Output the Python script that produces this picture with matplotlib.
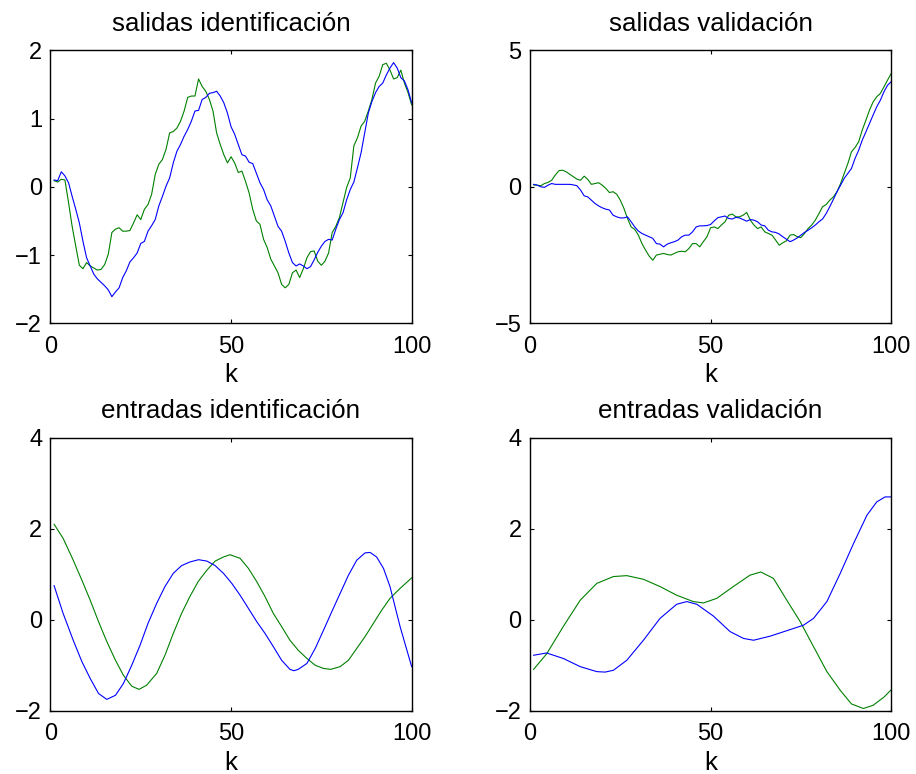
import matplotlib
matplotlib.use("Agg")
import matplotlib.pyplot as plt

plt.rcParams["font.family"] = ["Liberation Sans", "DejaVu Sans"]
plt.rcParams["font.size"] = 17

k = list(range(1, 101))

# salidas identificación
out_id_blue = [
    0.10, 0.09, 0.22, 0.16, 0.06, -0.14, -0.33, -0.53, -0.80, -1.04,
    -1.16, -1.28, -1.35, -1.40, -1.45, -1.51, -1.61, -1.54, -1.48, -1.33,
    -1.23, -1.10, -1.04, -0.97, -0.83, -0.80, -0.65, -0.57, -0.48, -0.28,
    -0.14, 0.01, 0.13, 0.35, 0.52, 0.62, 0.74, 0.84, 0.96, 1.11,
    1.12, 1.28, 1.31, 1.37, 1.38, 1.40, 1.33, 1.23, 1.08, 0.88,
    0.77, 0.62, 0.47, 0.45, 0.36, 0.34, 0.20, 0.06, -0.04, -0.19,
    -0.28, -0.43, -0.58, -0.65, -0.80, -0.97, -1.11, -1.16, -1.13, -1.16,
    -1.20, -1.17, -1.07, -0.96, -0.87, -0.80, -0.77, -0.78, -0.62, -0.48,
    -0.38, -0.19, -0.04, 0.07, 0.28, 0.50, 0.79, 1.08, 1.25, 1.38,
    1.47, 1.52, 1.64, 1.74, 1.82, 1.74, 1.60, 1.55, 1.42, 1.23,
]
out_id_green = [
    0.09, 0.07, 0.11, 0.10, -0.23, -0.58, -0.87, -1.15, -1.20, -1.11,
    -1.16, -1.19, -1.22, -1.21, -1.14, -0.99, -0.67, -0.62, -0.60, -0.65,
    -0.65, -0.64, -0.53, -0.41, -0.48, -0.33, -0.26, -0.11, 0.18, 0.33,
    0.40, 0.55, 0.79, 0.81, 0.86, 0.96, 1.11, 1.31, 1.33, 1.33,
    1.58, 1.47, 1.40, 1.28, 1.11, 0.79, 0.62, 0.47, 0.35, 0.44,
    0.35, 0.21, 0.23, 0.08, -0.09, -0.33, -0.50, -0.55, -0.77, -0.89,
    -1.06, -1.16, -1.26, -1.43, -1.48, -1.43, -1.26, -1.22, -1.33, -1.20,
    -1.04, -0.95, -0.94, -1.09, -1.15, -1.09, -0.97, -0.67, -0.58, -0.45,
    -0.23, -0.01, 0.13, 0.60, 0.72, 0.89, 0.96, 1.11, 1.28, 1.52,
    1.62, 1.79, 1.81, 1.71, 1.58, 1.60, 1.71, 1.52, 1.38, 1.20,
]

# salidas validación
out_val_blue = [
    0.09, 0.06, 0.00, -0.02, 0.06, 0.12, 0.09, 0.09, 0.09, 0.09,
    0.09, 0.07, 0.04, -0.12, -0.33, -0.37, -0.49, -0.61, -0.70, -0.77,
    -0.82, -0.85, -1.04, -1.10, -1.14, -1.14, -1.10, -1.28, -1.47, -1.62,
    -1.71, -1.77, -1.83, -1.89, -2.08, -2.10, -2.20, -2.10, -2.05, -2.01,
    -1.95, -1.83, -1.77, -1.77, -1.65, -1.47, -1.43, -1.43, -1.42, -1.38,
    -1.25, -1.13, -1.10, -1.07, -1.16, -1.18, -1.12, -1.14, -1.20, -1.26,
    -1.20, -1.22, -1.28, -1.40, -1.43, -1.59, -1.65, -1.67, -1.73, -1.83,
    -1.92, -2.01, -1.95, -1.87, -1.77, -1.67, -1.59, -1.50, -1.40, -1.28,
    -1.18, -0.98, -0.73, -0.46, -0.18, 0.06, 0.31, 0.49, 0.67, 1.04,
    1.34, 1.71, 2.01, 2.32, 2.63, 2.93, 3.17, 3.48, 3.72, 3.85,
]
out_val_green = [
    0.07, 0.06, 0.04, 0.12, 0.16, 0.24, 0.43, 0.59, 0.61, 0.55,
    0.46, 0.37, 0.28, 0.24, 0.39, 0.27, 0.09, 0.12, 0.15, 0.06,
    -0.06, -0.21, -0.18, -0.27, -0.49, -0.79, -1.16, -1.47, -1.56, -1.77,
    -2.08, -2.32, -2.54, -2.69, -2.50, -2.47, -2.44, -2.48, -2.50, -2.44,
    -2.38, -2.36, -2.38, -2.26, -2.08, -2.08, -2.20, -2.01, -1.83, -1.50,
    -1.47, -1.53, -1.40, -1.28, -1.04, -1.00, -1.10, -1.10, -1.04, -0.94,
    -1.22, -1.40, -1.53, -1.47, -1.65, -1.71, -1.77, -1.95, -2.14, -2.05,
    -1.98, -1.77, -1.75, -1.83, -1.86, -1.71, -1.53, -1.40, -1.22, -0.98,
    -0.73, -0.65, -0.49, -0.37, -0.18, 0.12, 0.49, 0.85, 1.28, 1.44,
    1.65, 2.08, 2.44, 2.81, 3.11, 3.30, 3.42, 3.66, 3.91, 4.15,
]

# entradas identificación
in_id_k_blue = [1, 3.5, 6.3, 8.7, 11, 13.3, 15.6, 18, 20.2, 22.5, 24.8, 27, 29.4, 31.7, 34,
                36.3, 38.6, 41, 43.3, 45.6, 47.9, 50.2, 52.5, 54.8, 57.1, 59.4, 61.7, 64,
                66.3, 67.4, 68.6, 71, 73.3, 75.6, 77.9, 80.2, 82.5, 84.8, 87.1, 88.5, 90.3,
                92.2, 94, 96.8, 98.4, 100]
in_id_blue = [0.75, 0.14, -0.45, -0.92, -1.29, -1.62, -1.75, -1.66, -1.40, -1.00, -0.56, -0.08,
              0.36, 0.73, 1.02, 1.19, 1.27, 1.32, 1.29, 1.19, 1.02, 0.80, 0.54, 0.25, -0.04,
              -0.30, -0.59, -0.89, -1.09, -1.12, -1.09, -0.96, -0.63, -0.23, 0.18, 0.58, 0.98,
              1.31, 1.47, 1.48, 1.38, 1.13, 0.73, -0.15, -0.59, -1.03]
in_id_k_green = [1, 3.5, 6.3, 8.7, 11, 13.3, 15.6, 18, 20.2, 22.5, 24.5, 26.6, 29.4, 31.7, 34,
                 36.3, 38.6, 40.9, 43.3, 45.6, 47.9, 49.7, 52.5, 54.8, 57.1, 59.4, 61.7, 64,
                 66.3, 68.6, 71, 73.3, 75.6, 77.6, 80.2, 82.5, 84.8, 87.1, 89.4, 91.7, 94,
                 96.8, 100]
in_id_green = [2.10, 1.79, 1.31, 0.87, 0.43, -0.04, -0.48, -0.89, -1.22, -1.46, -1.53, -1.44,
               -1.18, -0.78, -0.30, 0.14, 0.51, 0.84, 1.09, 1.29, 1.38, 1.43, 1.35, 1.13, 0.84,
               0.51, 0.14, -0.15, -0.45, -0.67, -0.85, -1.00, -1.07, -1.09, -1.03, -0.89, -0.63,
               -0.37, -0.08, 0.21, 0.47, 0.69, 0.92]

# entradas validación
in_val_k_blue = [1, 4.6, 9.2, 13.9, 18.5, 20.8, 23.1, 26.8, 31.4, 36, 40.6, 43.4, 46.2, 50.8,
                 55.4, 59.1, 61.9, 66.5, 71.1, 75.7, 78.5, 82.2, 85.9, 89.6, 93.3, 96, 98.3, 100]
in_val_blue = [-0.78, -0.73, -0.85, -1.03, -1.14, -1.15, -1.11, -0.89, -0.45, 0.03, 0.34, 0.40,
               0.34, 0.08, -0.26, -0.41, -0.45, -0.36, -0.24, -0.12, 0.03, 0.40, 1.02, 1.68,
               2.30, 2.59, 2.70, 2.70]
in_val_k_green = [1, 4.6, 9.2, 13.9, 18.5, 23.1, 26.8, 31.4, 36, 40.6, 45.2, 48, 51.7, 56.3,
                  60.9, 63.9, 67.4, 71.1, 74.8, 78.5, 82.2, 85.9, 89, 92.3, 95, 98, 100]
in_val_green = [-1.09, -0.75, -0.15, 0.43, 0.80, 0.95, 0.97, 0.89, 0.73, 0.54, 0.40, 0.37,
                0.47, 0.73, 0.98, 1.05, 0.91, 0.43, -0.04, -0.59, -1.14, -1.55, -1.85, -1.95,
                -1.88, -1.70, -1.54]

BLUE = (0, 0, 1)
GREEN = (0, 0.5, 0)


def setup_axes(ax, title, ylim, yticks):
    ax.set_xlim(0, 100)
    ax.set_ylim(*ylim)
    ax.set_xticks([0, 50, 100])
    ax.set_yticks(yticks)
    ax.tick_params(direction="in", length=3, width=0.8, top=True, right=True,
                   labelsize=17)
    ax.tick_params(axis="x", pad=9)
    ax.tick_params(axis="y", pad=6)
    for s in ax.spines.values():
        s.set_linewidth(1.0)
    # titles and labels are 1.1x the tick font, like MATLAB
    ax.set_title(title, fontsize=18.7, pad=14)
    ax.set_xlabel("k", fontsize=18.7, labelpad=4)


fig = plt.figure(figsize=(9.16, 7.74), dpi=100)

w, h = 0.3943, 0.3527
ax1 = fig.add_axes([0.0551, 0.5823, w, h])
ax2 = fig.add_axes([0.5786, 0.5823, w, h])
ax3 = fig.add_axes([0.0551, 0.0817, w, h])
ax4 = fig.add_axes([0.5786, 0.0817, w, h])

ax1.plot(k, out_id_green, color=GREEN, lw=0.8)
ax1.plot(k, out_id_blue, color=BLUE, lw=0.8)
setup_axes(ax1, "salidas identificación", (-2, 2), [-2, -1, 0, 1, 2])

ax2.plot(k, out_val_green, color=GREEN, lw=0.8)
ax2.plot(k, out_val_blue, color=BLUE, lw=0.8)
setup_axes(ax2, "salidas validación", (-5, 5), [-5, 0, 5])

ax3.plot(in_id_k_green, in_id_green, color=GREEN, lw=0.8)
ax3.plot(in_id_k_blue, in_id_blue, color=BLUE, lw=0.8)
setup_axes(ax3, "entradas identificación", (-2, 4), [-2, 0, 2, 4])

ax4.plot(in_val_k_green, in_val_green, color=GREEN, lw=0.8)
ax4.plot(in_val_k_blue, in_val_blue, color=BLUE, lw=0.8)
setup_axes(ax4, "entradas validación", (-2, 4), [-2, 0, 2, 4])

fig.savefig("out.png", dpi=100)
plt.close()
